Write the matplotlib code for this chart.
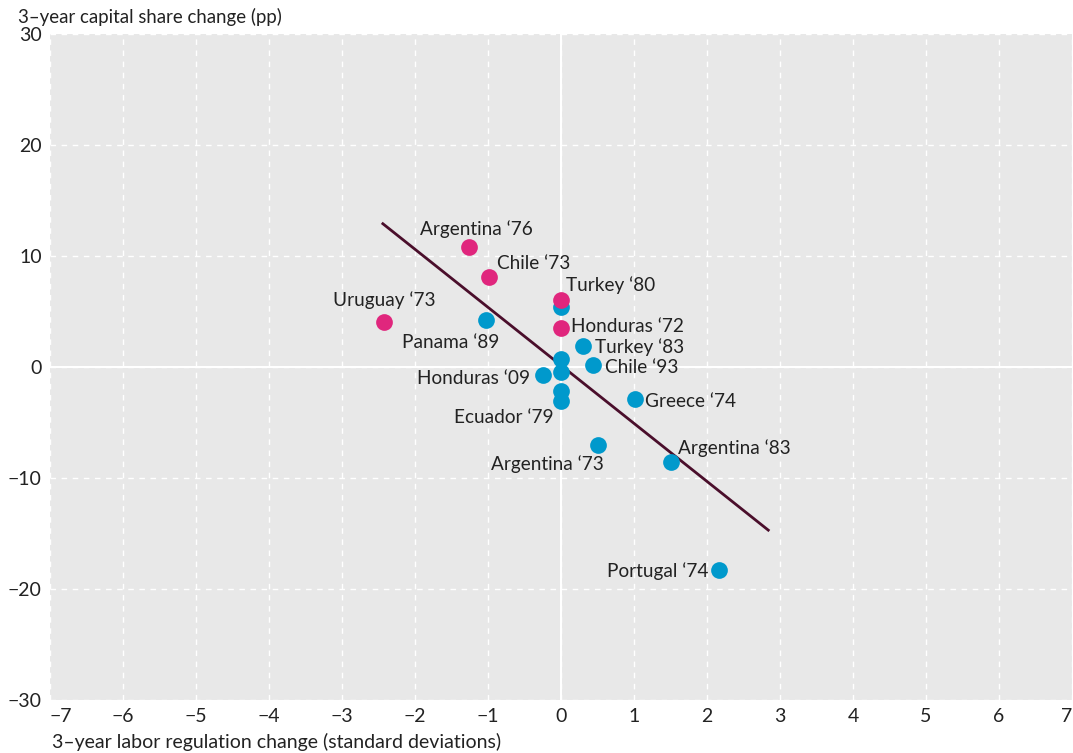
import matplotlib

matplotlib.use("Agg")
import matplotlib.pyplot as plt

# data
pink_x = [-1.26, -0.99, 0.0, 0.0, -2.42]
pink_y = [10.8, 8.1, 6.0, 3.5, 4.05]
pink_names = ["Argentina \u201876", "Chile \u201873", "Turkey \u201880", "Honduras \u201872", "Uruguay \u201873"]

blue_x = [0.0, -1.03, 0.30, 0.0, 0.44, -0.25, 0.0, 0.0, 0.0, 1.01, 0.51, 1.51, 2.16]
blue_y = [5.4, 4.2, 1.9, 0.7, 0.2, -0.7, -0.5, -2.2, -3.1, -2.9, -7.0, -8.6, -18.3]
blue_names = ["", "Panama \u201889", "Turkey \u201883", "", "Chile \u201893", "Honduras \u201809",
              "", "", "Ecuador \u201879", "Greece \u201874", "Argentina \u201873",
              "Argentina \u201883", "Portugal \u201874"]

fit_x = [-2.44, 2.84]
fit_y = [12.9, -14.7]

xticks = list(range(-7, 8))
yticks = [-30, -20, -10, 0, 10, 20, 30]

# label offsets in pixels (dx, dy, ha)
offsets = {
    "Argentina \u201876": (7, 18, "center"),
    "Chile \u201873": (8, 14, "left"),
    "Turkey \u201880": (5, 15, "left"),
    "Uruguay \u201873": (0, 22, "center"),
    "Honduras \u201872": (10, 2, "left"),
    "Panama \u201889": (14, -22, "right"),
    "Turkey \u201883": (12, -1, "left"),
    "Chile \u201893": (12, -3, "left"),
    "Honduras \u201809": (-13, -4, "right"),
    "Ecuador \u201879": (-7, -16, "right"),
    "Greece \u201874": (10, -2, "left"),
    "Argentina \u201873": (6, -19, "right"),
    "Argentina \u201883": (7, 14, "left"),
    "Portugal \u201874": (-10, -1, "right"),
}

PINK = "#e0267d"
BLUE = "#0099cc"
LINE = "#4a0e2b"
TXT = "#222222"

plt.rcParams.update({"font.family": ["Lato", "DejaVu Sans"]})
fig = plt.figure(figsize=(10.73, 7.53), dpi=100)
ax = fig.add_axes([0.0466, 0.0704, 0.9524, 0.8846])
ax.set_facecolor("#e8e8e8")
for s in ax.spines.values():
    s.set_visible(False)

ax.set_xlim(-7, 7)
ax.set_ylim(-30, 30)
ax.set_xticks(xticks)
ax.set_yticks(yticks)
ax.grid(True, color="white", ls=(0, (4, 4)), lw=1.0)
ax.set_axisbelow(True)
ax.axhline(0, color="white", lw=1.5, zorder=1)
ax.axvline(0, color="white", lw=1.5, zorder=1)
ax.tick_params(length=0, labelsize=14, colors=TXT, pad=6)
xlabs = ax.set_xticklabels([str(t).replace("-", "\u2212") for t in xticks])
ax.set_yticklabels([str(t).replace("-", "\u2212") for t in yticks])
xlabs[0].set_ha("left")
xlabs[-1].set_ha("right")

ax.plot(fit_x, fit_y, color=LINE, lw=2.0, zorder=2)
ax.scatter(blue_x, blue_y, s=145, color=BLUE, zorder=3, linewidths=0)
ax.scatter(pink_x, pink_y, s=145, color=PINK, zorder=4, linewidths=0)

for xs, ys, names in [(pink_x, pink_y, pink_names), (blue_x, blue_y, blue_names)]:
    for x, y, n in zip(xs, ys, names):
        if not n:
            continue
        dx, dy, ha = offsets[n]
        ax.annotate(n, (x, y), textcoords="offset points", xytext=(dx * 0.72, dy * 0.72),
                    ha=ha, va="center", fontsize=13.7, color=TXT, zorder=5)

fig.text(18 / 1073, 1 - 17 / 753, "3\u2013year capital share change (pp)", fontsize=13.4,
         color=TXT, ha="left", va="center")
fig.text(52 / 1073, 1 - 742 / 753, "3\u2013year labor regulation change (standard deviations)",
         fontsize=14, color=TXT, ha="left", va="center")

fig.savefig("out.png", dpi=100)
